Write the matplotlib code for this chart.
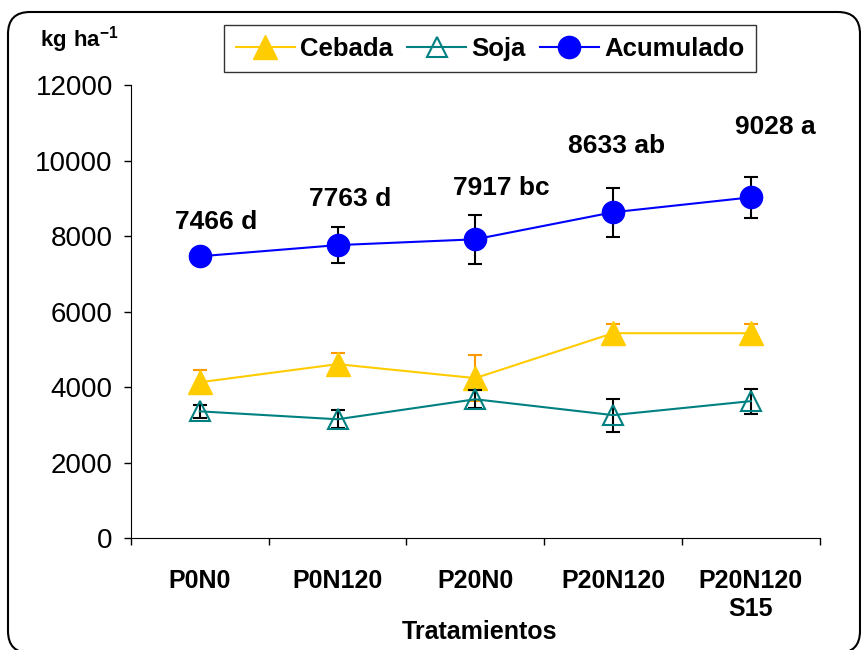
import matplotlib
matplotlib.use('Agg')
import matplotlib.pyplot as plt
from matplotlib.patches import FancyBboxPatch
from matplotlib.transforms import IdentityTransform

plt.rcParams['font.family'] = ['Liberation Sans', 'DejaVu Sans']
plt.rcParams['mathtext.fontset'] = 'custom'
plt.rcParams['mathtext.rm'] = 'Liberation Sans'
plt.rcParams['mathtext.bf'] = 'Liberation Sans:bold'

# data
tratamientos = ['P0N0', 'P0N120', 'P20N0', 'P20N120', 'P20N120\nS15']
cebada = [4130, 4610, 4240, 5430, 5430]
cebada_err = [320, 290, 610, 240, 240]
soja = [3360, 3150, 3680, 3260, 3630]
soja_err = [170, 240, 240, 440, 330]
acumulado = [7466, 7763, 7917, 8633, 9028]
acumulado_err = [90, 475, 650, 650, 540]
letras = ['d', 'd', 'bc', 'ab', 'a']

fig = plt.figure(figsize=(8.61, 6.5), dpi=100)
ax = fig.add_axes([0.152, 0.172, 0.800, 0.697])

x = list(range(len(tratamientos)))

ax.errorbar(x, cebada, yerr=cebada_err, fmt='none', ecolor='#FF9900',
            elinewidth=1.5, capsize=5, capthick=1.5, zorder=2)
ax.plot(x, cebada, color='#FFCC00', lw=1.5, marker='^', ms=17,
        mfc='#FFCC00', mec='#FFCC00', label='Cebada', zorder=3)

ax.errorbar(x, soja, yerr=soja_err, fmt='none', ecolor='black',
            elinewidth=1.5, capsize=5, capthick=1.5, zorder=4)
ax.plot(x, soja, color='#008080', lw=1.5, marker='^', ms=15,
        mfc='none', mec='#008080', mew=1.5, label='Soja', zorder=5)

ax.errorbar(x, acumulado, yerr=acumulado_err, fmt='none', ecolor='black',
            elinewidth=1.5, capsize=5, capthick=1.5, zorder=4)
ax.plot(x, acumulado, color='#0000FF', lw=1.5, marker='o', ms=16,
        mfc='#0000FF', mec='#0000FF', label='Acumulado', zorder=5)

# value labels above the acumulado points (offsets in points)
offsets = [(11.5, 24.5), (9.4, 33), (18.7, 36.7), (2.2, 48), (18, 50.4)]
for xi, v, l, off in zip(x, acumulado, letras, offsets):
    ax.annotate(f'{v} {l}', (xi, v), xytext=off, textcoords='offset points',
                ha='center', va='center', fontsize=19, fontweight='bold')

ax.set_xlim(-0.5, 4.5)
ax.set_ylim(0, 12000)
ax.set_yticks(range(0, 12001, 2000))
ax.set_xticks(x)
ax.set_xticklabels(tratamientos, fontweight='bold', fontsize=18)
ax.set_xticks([i - 0.5 for i in range(len(x) + 1)], minor=True)
ax.tick_params(axis='x', which='major', length=0, pad=22)
ax.tick_params(axis='x', which='minor', length=5, width=1)
ax.tick_params(axis='y', length=5, width=1, labelsize=20, pad=8)
ax.spines['top'].set_visible(False)
ax.spines['right'].set_visible(False)

fig.text(480 / 861, 1 - 632 / 650, 'Tratamientos', ha='center', va='center',
         fontsize=18, fontweight='bold')
fig.text(40 / 861, 1 - 40 / 650, r'$\mathbf{kg\ ha^{-1}}$', ha='left', va='center',
         fontsize=16)

leg = ax.legend(loc='upper center', bbox_to_anchor=(490 / 861, 1 - 25 / 650),
                bbox_transform=fig.transFigure, ncol=3, frameon=True,
                fancybox=False, handlelength=2.3, handletextpad=0.2,
                columnspacing=0.55, borderpad=0.45, borderaxespad=0,
                prop={'weight': 'bold', 'size': 18.5})
leg.get_frame().set_edgecolor('black')
leg.get_frame().set_linewidth(1)

# rounded outer frame (pixel coordinates), bottom edge just off the image
frame = FancyBboxPatch((8, -3), 852, 641,
                       boxstyle='round,pad=0,rounding_size=22',
                       transform=IdentityTransform(), fill=False,
                       edgecolor='black', linewidth=1.5)
fig.patches.append(frame)

fig.savefig('out.png', dpi=100)
